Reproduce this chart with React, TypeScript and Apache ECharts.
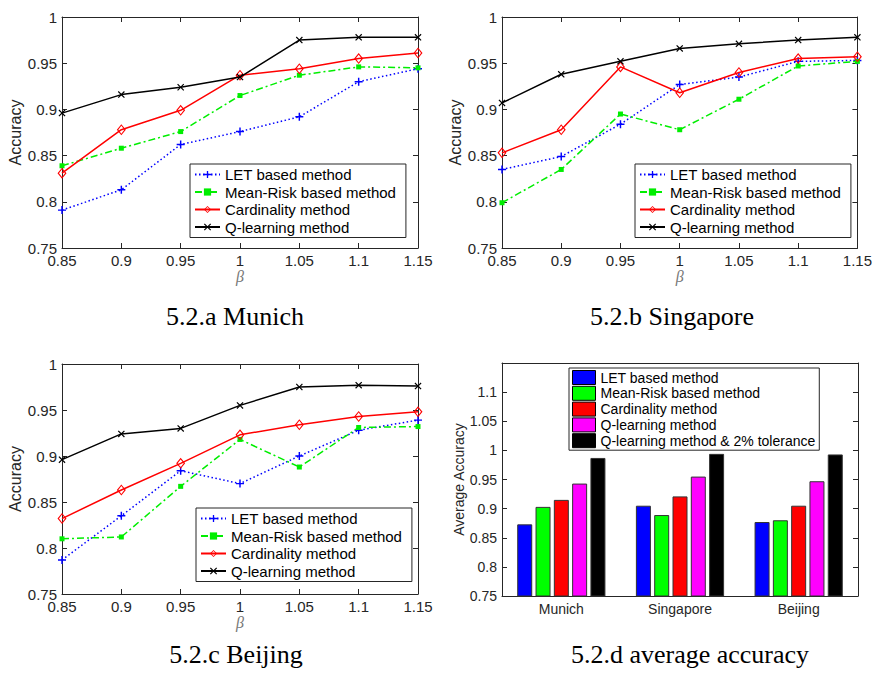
import React, { useEffect, useRef } from "react";
import * as echarts from "echarts";

const BETA = ["0.85", "0.9", "0.95", "1", "1.05", "1.1", "1.15"];
const SERIES_NAMES = ["LET based method", "Mean-Risk based method", "Cardinality method", "Q-learning method"];
const TOL_NAME = "Q-learning method & 2% tolerance";

const munichLET = [0.791, 0.813, 0.862, 0.876, 0.892, 0.930, 0.944];
const munichMR = [0.839, 0.858, 0.876, 0.915, 0.937, 0.946, 0.945];
const munichCard = [0.831, 0.878, 0.899, 0.937, 0.944, 0.955, 0.961];
const munichQ = [0.896, 0.916, 0.924, 0.935, 0.975, 0.978, 0.978];

const singLET = [0.835, 0.849, 0.884, 0.927, 0.935, 0.952, 0.953];
const singMR = [0.799, 0.835, 0.895, 0.878, 0.911, 0.947, 0.952];
const singCard = [0.853, 0.878, 0.946, 0.918, 0.940, 0.955, 0.957];
const singQ = [0.907, 0.938, 0.952, 0.966, 0.971, 0.975, 0.978];

const beijLET = [0.787, 0.835, 0.884, 0.870, 0.900, 0.928, 0.939];
const beijMR = [0.810, 0.812, 0.867, 0.918, 0.888, 0.931, 0.932];
const beijCard = [0.832, 0.863, 0.892, 0.923, 0.934, 0.943, 0.948];
const beijQ = [0.896, 0.924, 0.930, 0.955, 0.975, 0.977, 0.976];

const CITIES = ["Munich", "Singapore", "Beijing"];
const avgLET = [0.873, 0.905, 0.877];
const avgMR = [0.903, 0.889, 0.880];
const avgCard = [0.915, 0.921, 0.905];
const avgQ = [0.943, 0.955, 0.947];
const avgQTol = [0.987, 0.994, 0.993];

const CAPTIONS = ["5.2.a Munich", "5.2.b Singapore", "5.2.c Beijing", "5.2.d average accuracy"];

const AX = "#262626";
const FONT = "Liberation Sans, Arial, sans-serif";

const PLUS = "path://M-0.9,-5H0.9V-0.9H5V0.9H0.9V5H-0.9V0.9H-5V-0.9H-0.9Z";
const CROSS = "path://M-5,-3.8L-3.8,-5L0,-1.2L3.8,-5L5,-3.8L1.2,0L5,3.8L3.8,5L0,1.2L-3.8,5L-5,3.8L-1.2,0Z";
const DIAMOND = "path://M0,-6L4.5,0L0,6L-4.5,0Z M0,-4.3L-3,0L0,4.3L3,0Z";

const GRIDS = [
  { left: 62, top: 17, width: 356, height: 231 },
  { left: 502, top: 17, width: 356, height: 231 },
  { left: 62, top: 364, width: 356, height: 230 },
  { left: 502, top: 363, width: 356, height: 233 },
];

function fmt(v: number) {
  return String(+Number(v).toFixed(2));
}

export default function App() {
  const ref = useRef<HTMLDivElement>(null);
  useEffect(() => {
    if (!ref.current) return;
    const chart = echarts.init(ref.current, null, { renderer: "svg" });

    const xAxis: any[] = [];
    const yAxis: any[] = [];
    const series: any[] = [];
    const lineData = [
      [munichLET, munichMR, munichCard, munichQ],
      [singLET, singMR, singCard, singQ],
      [beijLET, beijMR, beijCard, beijQ],
    ];
    const styles = [
      { color: "#0000ff", symbol: PLUS, symbolSize: 8, lineType: [1.5, 2.5] as any },
      { color: "#00ee00", symbol: "rect", symbolSize: 5, lineType: [7, 3, 2, 3] as any },
      { color: "#ff0000", symbol: DIAMOND, symbolSize: [9, 11] as any, lineType: "solid" },
      { color: "#000000", symbol: CROSS, symbolSize: 7, lineType: "solid" },
    ];

    for (let g = 0; g < 3; g++) {
      xAxis.push({
        type: "category", gridIndex: g, data: BETA, boundaryGap: false, position: "bottom",
        axisLine: { lineStyle: { color: AX, width: 1 } },
        axisTick: { inside: true, length: 5, lineStyle: { color: AX } },
        axisLabel: { color: AX, fontSize: 15, fontFamily: FONT, margin: 5 },
        name: "β", nameLocation: "middle", nameGap: 20,
        nameTextStyle: { color: "#777", fontSize: 16, fontStyle: "italic", fontFamily: "Liberation Serif, serif" },
        splitLine: { show: false },
      });
      xAxis.push({
        type: "category", gridIndex: g, data: BETA, boundaryGap: false, position: "top",
        axisLine: { lineStyle: { color: AX, width: 1 } },
        axisTick: { inside: true, length: 5, lineStyle: { color: AX } },
        axisLabel: { show: false },
        splitLine: { show: false },
      });
      yAxis.push({
        type: "value", gridIndex: g, min: 0.75, max: 1, interval: 0.05, position: "left",
        axisLine: { show: true, lineStyle: { color: AX, width: 1 } },
        axisTick: { show: true, inside: true, length: 5, lineStyle: { color: AX } },
        axisLabel: { color: AX, fontSize: 15, fontFamily: FONT, margin: 5, formatter: fmt },
        name: "Accuracy", nameLocation: "middle", nameGap: 37,
        nameTextStyle: { color: AX, fontSize: 16, fontFamily: FONT },
        splitLine: { show: false },
      });
      yAxis.push({
        type: "value", gridIndex: g, min: 0.75, max: 1, interval: 0.05, position: "right",
        axisLine: { show: true, lineStyle: { color: AX, width: 1 } },
        axisTick: { show: true, inside: true, length: 5, lineStyle: { color: AX } },
        axisLabel: { show: false },
        splitLine: { show: false },
      });
      for (let s = 0; s < 4; s++) {
        const st = styles[s];
        series.push({
          type: "line", name: SERIES_NAMES[s], xAxisIndex: 2 * g, yAxisIndex: 2 * g,
          data: lineData[g][s], color: st.color, symbol: st.symbol, symbolSize: st.symbolSize,
          showSymbol: true,
          lineStyle: { color: st.color, width: 1.5, type: st.lineType },
          itemStyle: { color: st.color },
          z: 2 + s,
        });
      }
    }

    // bar panel
    xAxis.push({
      type: "category", gridIndex: 3, data: CITIES, position: "bottom",
      axisLine: { lineStyle: { color: AX, width: 1 } },
      axisTick: { inside: true, length: 5, alignWithLabel: true, lineStyle: { color: AX } },
      axisLabel: { color: AX, fontSize: 14, fontFamily: FONT, margin: 6 },
      splitLine: { show: false },
    });
    xAxis.push({
      type: "category", gridIndex: 3, data: CITIES, position: "top",
      axisLine: { lineStyle: { color: AX, width: 1 } },
      axisTick: { inside: true, length: 5, alignWithLabel: true, lineStyle: { color: AX } },
      axisLabel: { show: false },
      splitLine: { show: false },
    });
    yAxis.push({
      type: "value", gridIndex: 3, min: 0.75, max: 1.15, interval: 0.05, position: "left",
      axisLine: { show: true, lineStyle: { color: AX, width: 1 } },
      axisTick: { show: true, inside: true, length: 5, lineStyle: { color: AX } },
      axisLabel: {
        color: AX, fontSize: 14, fontFamily: FONT, margin: 5,
        formatter: (v: number) => (v > 1.12 ? "" : fmt(v)),
      },
      name: "Average Accuracy", nameLocation: "middle", nameGap: 33,
      nameTextStyle: { color: AX, fontSize: 14, fontFamily: FONT },
      splitLine: { show: false },
    });
    yAxis.push({
      type: "value", gridIndex: 3, min: 0.75, max: 1.15, interval: 0.05, position: "right",
      axisLine: { show: true, lineStyle: { color: AX, width: 1 } },
      axisTick: { show: true, inside: true, length: 5, lineStyle: { color: AX } },
      axisLabel: { show: false },
      splitLine: { show: false },
    });
    const barData = [avgLET, avgMR, avgCard, avgQ, avgQTol];
    const barNames = [...SERIES_NAMES, TOL_NAME];
    const barColors = ["#0000ff", "#00ff00", "#ff0000", "#ff00ff", "#000000"];
    for (let b = 0; b < 5; b++) {
      series.push({
        type: "bar", name: barNames[b], xAxisIndex: 6, yAxisIndex: 6,
        data: barData[b], barWidth: 15, barGap: "22%",
        itemStyle: { color: barColors[b], borderColor: "#333", borderWidth: 1 },
      });
    }

    const lineLegend = (left: number, top: number) => ({
      orient: "vertical", left, top, align: "left",
      data: SERIES_NAMES,
      itemWidth: 25, itemHeight: 9, itemGap: 2.5,
      padding: [3, 10, 3, 4],
      borderColor: AX, borderWidth: 1, backgroundColor: "#fff",
      textStyle: { color: "#000", fontSize: 15, fontFamily: FONT },
      selectedMode: false,
    });

    const option: any = {
      animation: false,
      backgroundColor: "#fff",
      grid: GRIDS.map((g) => ({ ...g, containLabel: false })),
      xAxis, yAxis, series,
      legend: [
        lineLegend(190, 164),
        lineLegend(635, 164),
        lineLegend(196, 508),
        {
          orient: "vertical", left: 569, top: 368, align: "left",
          data: barNames.map((n, i) => ({
            name: n, icon: "rect",
            itemStyle: { color: barColors[i], borderColor: "#000", borderWidth: 1 },
          })),
          itemWidth: 23, itemHeight: 14, itemGap: 0.8,
          padding: [2, 4, 2, 3],
          borderColor: AX, borderWidth: 1, backgroundColor: "#fff",
          textStyle: { color: "#000", fontSize: 14, fontFamily: FONT },
          selectedMode: false,
        },
      ],
      graphic: [
        { x: 235, y: 316, text: CAPTIONS[0] },
        { x: 672, y: 316, text: CAPTIONS[1] },
        { x: 236, y: 654, text: CAPTIONS[2] },
        { x: 690, y: 654, text: CAPTIONS[3] },
      ].map((c) => ({
        type: "text", x: c.x, y: c.y,
        style: {
          text: c.text, fill: "#000", fontSize: 26, fontFamily: "Liberation Serif, Times New Roman, serif",
          align: "center", verticalAlign: "middle",
        },
      })),
    };
    chart.setOption(option);
    return () => chart.dispose();
  }, []);
  return <div ref={ref} style={{ position: "fixed", left: 0, top: 0, width: 875, height: 675 }} />;
}
